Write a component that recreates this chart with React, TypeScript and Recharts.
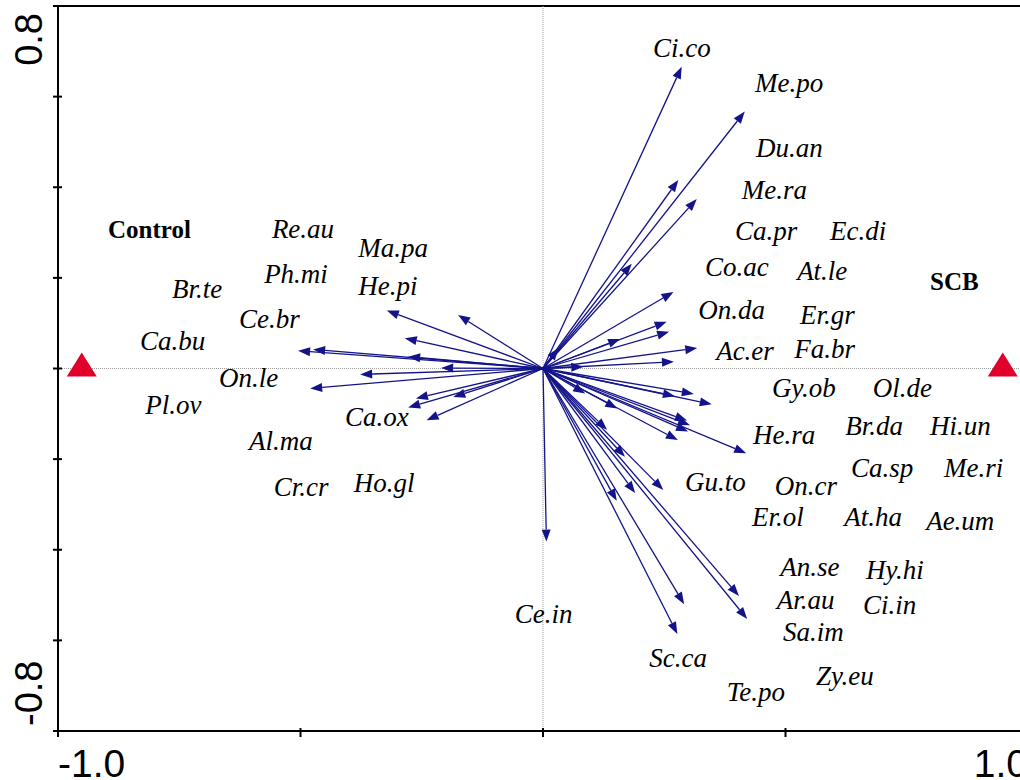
import React from 'react';
import { ScatterChart, Scatter, XAxis, YAxis, ReferenceLine } from 'recharts';

// species arrow tips (ordination scores, axis 1 / axis 2)
const arrowX = [
  -0.322, -0.175, -0.285, -0.505, -0.474, -0.278, -0.21, -0.377, -0.48, -0.262, -0.185, -0.278, -0.24,
  0.286, 0.416, 0.279, 0.317, 0.183, 0.032, 0.269, 0.255, 0.26, 0.159, 0.318, 0.27, 0.083,
  0.311, 0.272, 0.348, 0.087, 0.153, 0.297, 0.299, 0.278, 0.132, 0.419, 0.169, 0.248, 0.19, 0.152,
  0.404, 0.291, 0.421, 0.277, 0.007, 0.303,
];
const arrowY = [
  0.128, 0.118, 0.067, 0.039, 0.042, 0.026, 0.001, -0.013, -0.044, -0.066, -0.063, -0.086, -0.114,
  0.666, 0.567, 0.416, 0.374, 0.231, 0.045, 0.169, 0.103, 0.081, 0.065, 0.045, 0.015, 0.004,
  -0.056, -0.061, -0.079, -0.055, -0.088, -0.115, -0.139, -0.158, -0.135, -0.187, -0.195, -0.268, -0.275, -0.292,
  -0.502, -0.52, -0.553, -0.586, -0.382, -0.125,
];

// species labels and where they sit in ordination space
const speciesNames = [
  'Ci.co', 'Me.po', 'Du.an', 'Me.ra', 'Ca.pr', 'Ec.di', 'Co.ac', 'At.le', 'On.da', 'Er.gr', 'Ac.er', 'Fa.br',
  'Gy.ob', 'Ol.de', 'He.ra', 'Br.da', 'Hi.un', 'Ca.sp', 'Me.ri', 'Gu.to', 'On.cr', 'Er.ol', 'At.ha', 'Ae.um',
  'An.se', 'Hy.hi', 'Ar.au', 'Ci.in', 'Sa.im', 'Ce.in', 'Sc.ca', 'Zy.eu', 'Te.po',
  'Re.au', 'Ma.pa', 'Ph.mi', 'He.pi', 'Br.te', 'Ce.br', 'Ca.bu', 'On.le', 'Pl.ov', 'Ca.ox', 'Al.ma', 'Cr.cr', 'Ho.gl',
];
const speciesX = [
  0.227, 0.437, 0.439, 0.41, 0.396, 0.592, 0.334, 0.524, 0.32, 0.53, 0.357, 0.518,
  0.472, 0.68, 0.433, 0.623, 0.798, 0.635, 0.827, 0.293, 0.478, 0.431, 0.621, 0.79,
  0.489, 0.666, 0.482, 0.66, 0.495, -0.058, 0.219, 0.563, 0.379,
  -0.559, -0.381, -0.575, -0.381, -0.765, -0.627, -0.831, -0.668, -0.82, -0.408, -0.606, -0.555, -0.39,
];
const speciesY = [
  0.708, 0.63, 0.487, 0.396, 0.305, 0.305, 0.226, 0.217, 0.131, 0.12, 0.039, 0.043,
  -0.043, -0.043, -0.145, -0.127, -0.127, -0.218, -0.218, -0.249, -0.258, -0.327, -0.327, -0.335,
  -0.436, -0.443, -0.511, -0.52, -0.58, -0.54, -0.639, -0.677, -0.712,
  0.308, 0.268, 0.209, 0.184, 0.176, 0.111, 0.061, -0.021, -0.08, -0.107, -0.158, -0.26, -0.251,
];

// treatment centroids
const envNames = ['Control', 'SCB'];
const envX = [-0.951, 0.948];
const envY = [0, 0];
const envLabelX = [-0.897, 0.798];
const envLabelY = [0.308, 0.193];

const xTicks = [-1, -0.5, 0, 0.5, 1];
const yTicks = [-0.8, -0.6, -0.4, -0.2, 0, 0.2, 0.4, 0.6, 0.8];

const ARROW = '#14148a';
const SERIF = "'Liberation Serif', 'Times New Roman', serif";
const SANS = "'Liberation Sans', Arial, sans-serif";

const speciesData = speciesNames.map((name, i) => ({ name, x: speciesX[i], y: speciesY[i] }));
const envPoints = envNames.map((name, i) => ({ name, x: envX[i], y: envY[i] }));
const envLabels = envNames.map((name, i) => ({ name, x: envLabelX[i], y: envLabelY[i] }));

const Arrow = (p: any) => {
  const { x1, y1, x2, y2 } = p;
  const dx = x2 - x1;
  const dy = y2 - y1;
  const len = Math.hypot(dx, dy) || 1;
  const ux = dx / len;
  const uy = dy / len;
  const L = 12;
  const W = 4.5;
  const bx = x2 - ux * L;
  const by = y2 - uy * L;
  return (
    <g>
      <line x1={x1} y1={y1} x2={bx} y2={by} stroke={ARROW} strokeWidth={1.3} />
      <polygon
        points={`${x2},${y2} ${bx - uy * W},${by + ux * W} ${bx + uy * W},${by - ux * W}`}
        fill={ARROW}
      />
    </g>
  );
};

const XTick = (props: any) => {
  const { x, y, payload } = props;
  const v = payload.value;
  const showLabel = v === -1 || v === 1;
  return (
    <g>
      <line x1={x} x2={x} y1={y - 3} y2={y + 6} stroke="#000" strokeWidth={2} />
      {showLabel && (
        <text x={x} y={y + 46} textAnchor={v < 0 ? 'start' : 'end'} fontFamily={SANS} fontSize={39} fill="#000">
          {v.toFixed(1)}
        </text>
      )}
    </g>
  );
};

const YTick = (props: any) => {
  const { x, y, payload } = props;
  const v = payload.value;
  const tx = x - 16;
  return (
    <g>
      <line x1={x - 5} x2={x + 4} y1={y} y2={y} stroke="#000" strokeWidth={2} />
      {v === 0.8 && (
        <text x={tx} y={y + 7} textAnchor="end" transform={`rotate(-90, ${tx}, ${y + 7})`} fontFamily={SANS} fontSize={38} fill="#000">
          0.8
        </text>
      )}
      {v === -0.8 && (
        <text x={tx} y={y - 5} textAnchor="start" transform={`rotate(-90, ${tx}, ${y - 5})`} fontFamily={SANS} fontSize={38} fill="#000">
          -0.8
        </text>
      )}
    </g>
  );
};

export default function App() {
  return (
    <div style={{ position: 'fixed', left: 0, top: 0, width: 1020, height: 780, overflow: 'hidden', background: '#fff' }}>
      <ScatterChart width={1060} height={780} margin={{ top: 6, right: 32, bottom: 0, left: 0 }}>
        <XAxis
          type="number"
          dataKey="x"
          domain={[-1, 1]}
          ticks={xTicks}
          interval={0}
          height={49}
          tickSize={0}
          tickMargin={0}
          tickLine={false}
          axisLine={{ stroke: '#000', strokeWidth: 2 }}
          tick={<XTick />}
          allowDataOverflow
        />
        <YAxis
          type="number"
          dataKey="y"
          domain={[-0.8, 0.8]}
          ticks={yTicks}
          interval={0}
          width={58}
          tickSize={0}
          tickMargin={0}
          tickLine={false}
          axisLine={{ stroke: '#000', strokeWidth: 2 }}
          tick={<YTick />}
          allowDataOverflow
        />
        {/* frame + zero cross */}
        <ReferenceLine y={0.8} stroke="#000" strokeWidth={2} />
        <ReferenceLine x={1} stroke="#000" strokeWidth={2} />
        <ReferenceLine x={0} stroke="#9a9a9a" strokeWidth={1} strokeDasharray="1 1" />
        <ReferenceLine y={0} stroke="#9a9a9a" strokeWidth={1} strokeDasharray="1 1" />
        {arrowX.map((ax, i) => (
          <ReferenceLine
            key={`arrow-${i}`}
            segment={[{ x: 0, y: 0 }, { x: ax, y: arrowY[i] }]}
            shape={Arrow}
          />
        ))}
        <Scatter
          data={envPoints}
          isAnimationActive={false}
          shape={(p: any) => (
            <polygon
              points={`${p.cx},${p.cy - 16} ${p.cx + 15},${p.cy + 8} ${p.cx - 15},${p.cy + 8}`}
              fill="#e0002a"
            />
          )}
        />
        <Scatter
          data={envLabels}
          isAnimationActive={false}
          shape={(p: any) => (
            <text x={p.cx} y={p.cy} dy="0.35em" fontFamily={SERIF} fontWeight="bold" fontSize={25} fill="#000">
              {p.payload.name}
            </text>
          )}
        />
        <Scatter
          data={speciesData}
          isAnimationActive={false}
          shape={(p: any) => (
            <text x={p.cx} y={p.cy} dy="0.35em" fontFamily={SERIF} fontStyle="italic" fontSize={27} fill="#000">
              {p.payload.name}
            </text>
          )}
        />
      </ScatterChart>
    </div>
  );
}
